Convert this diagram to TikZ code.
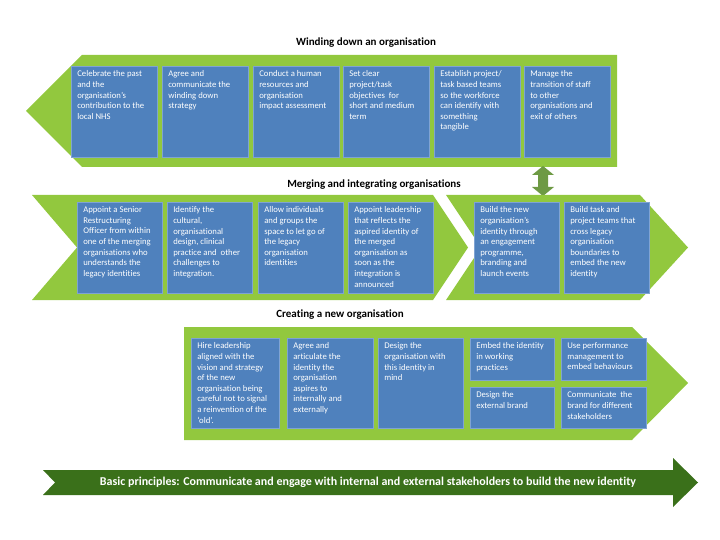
\documentclass[tikz,border=0pt]{standalone}
\usepackage{fontspec}
\setmainfont{Carlito}[Ligatures=NoCommon]
\definecolor{bandgreen}{HTML}{92C83E}
\definecolor{boxblue}{HTML}{4F81BD}
\definecolor{boxline}{HTML}{7FA3D3}
\definecolor{darkgreen}{HTML}{3A701A}
\definecolor{olivegreen}{HTML}{6E9A44}
\tikzset{
	actbox/.style={fill=boxblue, draw=boxline, line width=0.6pt, anchor=north west,
		inner xsep=6pt, inner ysep=4.5pt, text=white, font=\fontsize{8.7}{10.6}\selectfont},
	bandtitle/.style={font=\bfseries\fontsize{11}{13}\selectfont, text=black}
}
\begin{document}
\begin{tikzpicture}[x=1pt, y=-1pt]
	\useasboundingbox (0,0) rectangle (720,540);
	
	% Winding down
	\fill[bandgreen] (26,111) -- (82,55) -- (617,55) -- (617,167) -- (82,167) -- cycle;
	\node[bandtitle] (tWind) at (366,43) {Winding down an organisation};
	\node[actbox] (w1) at (71,66)  {\parbox[t][82pt][t]{74pt}{Celebrate the past\\and the\\organisation's\\contribution to the\\local NHS}};
	\node[actbox] (w2) at (162,66) {\parbox[t][82pt][t]{74pt}{Agree and\\communicate the\\winding down\\strategy}};
	\node[actbox] (w3) at (253,66) {\parbox[t][82pt][t]{74pt}{Conduct a human\\resources and\\organisation\\impact assessment}};
	\node[actbox] (w4) at (343,66) {\parbox[t][82pt][t]{74pt}{Set clear\\project/task\\objectives\ \ for\\short and medium\\term}};
	\node[actbox] (w5) at (434,66) {\parbox[t][82pt][t]{74pt}{Establish project/\\task based teams\\so the workforce\\can identify with\\something\\tangible}};
	\node[actbox] (w6) at (524,66) {\parbox[t][82pt][t]{74pt}{Manage the\\transition of staff\\to other\\organisations and\\exit of others}};
	
	% double arrow between bands
	\fill[olivegreen] (543,166) -- (554,175) -- (548,175) -- (548,187) -- (554,187) -- (543,196)
		-- (532,187) -- (538,187) -- (538,175) -- (532,175) -- cycle;
	
	% Merging and integrating
	\fill[bandgreen] (32,195) -- (433,195) -- (468,247.5) -- (433,300) -- (32,300) -- (77,247.5) -- cycle;
	\fill[bandgreen] (446,195) -- (640,195) -- (688,247.5) -- (640,300) -- (446,300) -- (481,247.5) -- cycle;
	\node[bandtitle] (tMerge) at (374,185) {Merging and integrating organisations};
	\node[actbox] (m1) at (77,202)  {\parbox[t][82pt][t]{73pt}{Appoint a Senior\\Restructuring\\Officer from within\\one of the merging\\organisations who\\understands the\\legacy identities}};
	\node[actbox] (m2) at (167,202) {\parbox[t][82pt][t]{73pt}{Identify the\\cultural,\\organisational\\design, clinical\\practice and\ \ other\\challenges to\\integration.}};
	\node[actbox] (m3) at (258,202) {\parbox[t][82pt][t]{73pt}{Allow individuals\\and groups the\\space to let go of\\the legacy\\organisation\\identities}};
	\node[actbox] (m4) at (348,202) {\parbox[t][82pt][t]{73pt}{Appoint leadership\\that reflects the\\aspired identity of\\the merged\\organisation as\\soon as the\\integration is\\announced}};
	\node[actbox] (m5) at (474,202) {\parbox[t][82pt][t]{73pt}{Build the new\\organisation's\\identity through\\an engagement\\programme,\\branding and\\launch events}};
	\node[actbox] (m6) at (564,202) {\parbox[t][82pt][t]{73pt}{Build task and\\project teams that\\cross legacy\\organisation\\boundaries to\\embed the new\\identity}};
	
	% Creating a new organisation
	\fill[bandgreen] (184,327) -- (632,327) -- (688,383) -- (632,440) -- (184,440) -- cycle;
	\node[bandtitle] (tCreate) at (340,315) {Creating a new organisation};
	\node[actbox] (c1) at (191,338) {\parbox[t][81pt][t]{76pt}{Hire leadership\\aligned with the\\vision and strategy\\of the new\\organisation being\\careful not to signal\\a reinvention of the\\`old'.}};
	\node[actbox] (c2) at (287,338) {\parbox[t][81pt][t]{74pt}{Agree and\\articulate the\\identity the\\organisation\\aspires to\\internally and\\externally}};
	\node[actbox] (c3) at (378,338) {\parbox[t][81pt][t]{73pt}{Design the\\organisation with\\this identity in\\mind}};
	\node[actbox] (c4) at (470,338) {\parbox[t][33pt][t]{72pt}{Embed the identity\\in working\\practices}};
	\node[actbox] (c4b) at (470,387) {\parbox[t][32pt][t]{72pt}{Design the\\external brand}};
	\node[actbox] (c5) at (561,338) {\parbox[t][33pt][t]{73pt}{Use performance\\management to\\embed behaviours}};
	\node[actbox] (c5b) at (561,387) {\parbox[t][32pt][t]{73pt}{Communicate\ \ the\\brand for different\\stakeholders}};
	
	% Basic principles arrow
	\fill[darkgreen] (43,470) -- (673,470) -- (673,458) -- (698,482.5) -- (673,507) -- (673,495) -- (43,495) -- (55,482.5) -- cycle;
	\node[font=\bfseries\fontsize{12}{14}\selectfont, text=white] (basic) at (368,482.5)
		{Basic principles: Communicate and engage with internal and external stakeholders to build the new identity};
	
\end{tikzpicture}
\end{document}
